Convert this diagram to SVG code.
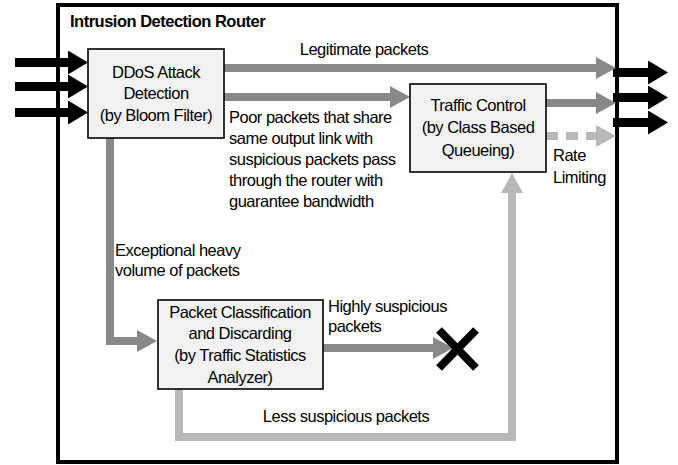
<svg xmlns="http://www.w3.org/2000/svg" width="678" height="465" viewBox="0 0 678 465">
<style>
text{font-family:"Liberation Sans",Arial,sans-serif;font-size:16.5px;letter-spacing:-0.5px;fill:#000}
.title{font-weight:bold}
.box{fill:#f2f2f2;stroke:#000;stroke-width:1.6}
.dk{fill:none;stroke:#888;stroke-width:8}
.lt{fill:none;stroke:#b8b8b8;stroke-width:8}
.bk{fill:none;stroke:#000;stroke-width:9}
.mid{text-anchor:middle}
</style>
<defs>
<marker id="hDk" markerUnits="userSpaceOnUse" viewBox="0 0 20 22" refX="0" refY="11" markerWidth="20" markerHeight="22" orient="auto"><path d="M0,0 L20,11 L0,22 z" fill="#888"/></marker>
<marker id="hLt" markerUnits="userSpaceOnUse" viewBox="0 0 20 22" refX="0" refY="11" markerWidth="20" markerHeight="22" orient="auto"><path d="M0,0 L20,11 L0,22 z" fill="#b8b8b8"/></marker>
<marker id="hBk" markerUnits="userSpaceOnUse" viewBox="0 0 20 24" refX="0" refY="12" markerWidth="20" markerHeight="24" orient="auto"><path d="M0,0 L20,12 L0,24 z" fill="#000"/></marker>
</defs>
<rect width="678" height="465" fill="#fff"/>
<g id="router">
<rect x="58" y="5" width="559" height="457" fill="#fff" stroke="#000" stroke-width="4"/>
<text class="title" x="70" y="27">Intrusion Detection Router</text>
</g>
<g id="connectors">
<line class="bk" x1="15" y1="62.5" x2="68" y2="62.5" marker-end="url(#hBk)"/>
<line class="bk" x1="15" y1="86.5" x2="68" y2="86.5" marker-end="url(#hBk)"/>
<line class="bk" x1="15" y1="112.5" x2="68" y2="112.5" marker-end="url(#hBk)"/>
<line class="bk" x1="613" y1="72.5" x2="648" y2="72.5" marker-end="url(#hBk)"/>
<line class="bk" x1="613" y1="97.5" x2="648" y2="97.5" marker-end="url(#hBk)"/>
<line class="bk" x1="613" y1="122.5" x2="648" y2="122.5" marker-end="url(#hBk)"/>
<line class="dk" x1="224" y1="68" x2="596" y2="68" marker-end="url(#hDk)"/>
<line class="dk" x1="224" y1="97" x2="390" y2="97" marker-end="url(#hDk)"/>
<line class="dk" x1="546" y1="103" x2="596" y2="103" marker-end="url(#hDk)"/>
<line class="lt" x1="546" y1="136" x2="596" y2="136" stroke-dasharray="12 8" marker-end="url(#hLt)"/>
<polyline class="dk" points="110,138 110,341 137,341" marker-end="url(#hDk)"/>
<line class="dk" x1="323" y1="348" x2="433" y2="348" marker-end="url(#hDk)"/>
<polyline class="lt" points="179,389 179,437 512,437 512,193" marker-end="url(#hLt)"/>
<line x1="439" y1="330" x2="476" y2="368" stroke="#000" stroke-width="8"/>
<line x1="476" y1="330" x2="439" y2="368" stroke="#000" stroke-width="8"/>
</g>
<g id="ddos">
<rect class="box" x="88" y="49" width="136" height="89"/>
<text class="mid" x="156" y="78">DDoS Attack</text>
<text class="mid" x="156" y="99">Detection</text>
<text class="mid" x="156" y="121">(by Bloom Filter)</text>
</g>
<g id="traffic">
<rect class="box" x="410" y="84" width="136" height="88"/>
<text class="mid" x="478" y="111">Traffic Control</text>
<text class="mid" x="478" y="133">(by Class Based</text>
<text class="mid" x="478" y="156">Queueing)</text>
</g>
<g id="classify">
<rect class="box" x="158" y="300" width="165" height="89"/>
<text class="mid" x="240" y="318">Packet Classification</text>
<text class="mid" x="240" y="339">and Discarding</text>
<text class="mid" x="240" y="361">(by Traffic Statistics</text>
<text class="mid" x="240" y="383">Analyzer)</text>
</g>
<g id="labels">
<text class="mid" x="364" y="55">Legitimate packets</text>
<text x="229" y="123">Poor packets that share</text>
<text x="229" y="144">same output link with</text>
<text x="229" y="165">suspicious packets pass</text>
<text x="229" y="186">through the router with</text>
<text x="229" y="207">guarantee bandwidth</text>
<text x="553" y="161">Rate</text>
<text x="553" y="183">Limiting</text>
<text x="115" y="256">Exceptional heavy</text>
<text x="115" y="276">volume of packets</text>
<text x="328" y="312">Highly suspicious</text>
<text x="328" y="332">packets</text>
<text class="mid" x="346" y="422">Less suspicious packets</text>
</g>
</svg>
